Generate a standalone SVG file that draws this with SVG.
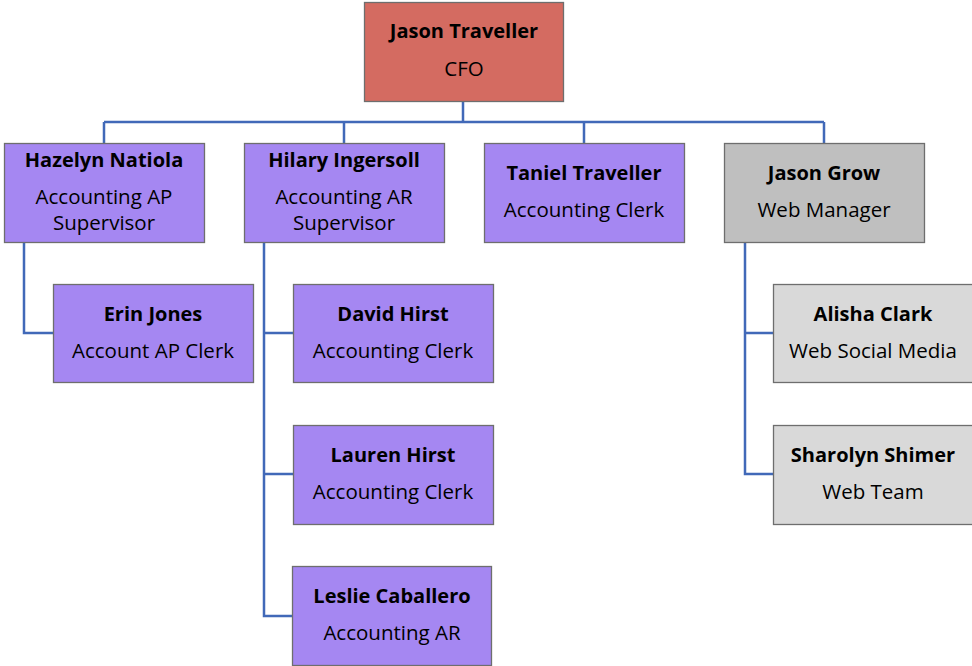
<svg xmlns="http://www.w3.org/2000/svg" width="972" height="666" viewBox="0 0 972 666">
<style>
.box{stroke:#6e6e6e;stroke-width:1.3}
.red{fill:#D46B61}
.pur{fill:#A587F2}
.gry{fill:#BFBFBF}
.lgr{fill:#D9D9D9}
.n{font-family:"Open Sans","Liberation Sans",sans-serif;font-weight:bold;font-size:20px;fill:#000;text-anchor:middle}
.r{font-family:"Open Sans","Liberation Sans",sans-serif;font-size:20.5px;fill:#000;text-anchor:middle}
.c{fill:none;stroke:#4169B8;stroke-width:2.5}
</style>
<rect width="972" height="666" fill="#fff"/>
<g id="connectors">
<path class="c" d="M463 101V122M104 122H824M104 122V143M344 122V143M584 122V143M824 122V143"/>
<path class="c" d="M24 243V333H53"/>
<path class="c" d="M264 243V616H292M264 333H293M264 474H293"/>
<path class="c" d="M745 243V474H773M745 333H773"/>
</g>
<g id="cfo"><rect class="box red" x="364.5" y="2.5" width="199" height="99"/><text class="n" x="464" y="38">Jason Traveller</text><text class="r" x="464" y="76">CFO</text></g>
<g id="hazelyn"><rect class="box pur" x="4.5" y="143.5" width="200" height="99"/><text class="n" x="104" y="167">Hazelyn Natiola</text><text class="r" x="104" y="204">Accounting AP</text><text class="r" x="104" y="230">Supervisor</text></g>
<g id="hilary"><rect class="box pur" x="244.5" y="143.5" width="200" height="99"/><text class="n" x="344" y="167">Hilary Ingersoll</text><text class="r" x="344" y="204">Accounting AR</text><text class="r" x="344" y="230">Supervisor</text></g>
<g id="taniel"><rect class="box pur" x="484.5" y="143.5" width="200" height="99"/><text class="n" x="584" y="180">Taniel Traveller</text><text class="r" x="584" y="217">Accounting Clerk</text></g>
<g id="jasongrow"><rect class="box gry" x="724.5" y="143.5" width="200" height="99"/><text class="n" x="824" y="180">Jason Grow</text><text class="r" x="824" y="217">Web Manager</text></g>
<g id="erin"><rect class="box pur" x="53.5" y="284.5" width="200" height="98"/><text class="n" x="153" y="321">Erin Jones</text><text class="r" x="153" y="358">Account AP Clerk</text></g>
<g id="david"><rect class="box pur" x="293.5" y="284.5" width="200" height="98"/><text class="n" x="393" y="321">David Hirst</text><text class="r" x="393" y="358">Accounting Clerk</text></g>
<g id="lauren"><rect class="box pur" x="293.5" y="425.5" width="200" height="99"/><text class="n" x="393" y="462">Lauren Hirst</text><text class="r" x="393" y="499">Accounting Clerk</text></g>
<g id="leslie"><rect class="box pur" x="292.5" y="566.5" width="199" height="99"/><text class="n" x="392" y="603">Leslie Caballero</text><text class="r" x="392" y="640">Accounting AR</text></g>
<g id="alisha"><rect class="box lgr" x="773.5" y="284.5" width="200" height="98"/><text class="n" x="873" y="321">Alisha Clark</text><text class="r" x="873" y="358">Web Social Media</text></g>
<g id="sharolyn"><rect class="box lgr" x="773.5" y="425.5" width="200" height="99"/><text class="n" x="873" y="462">Sharolyn Shimer</text><text class="r" x="873" y="499">Web Team</text></g>
</svg>
